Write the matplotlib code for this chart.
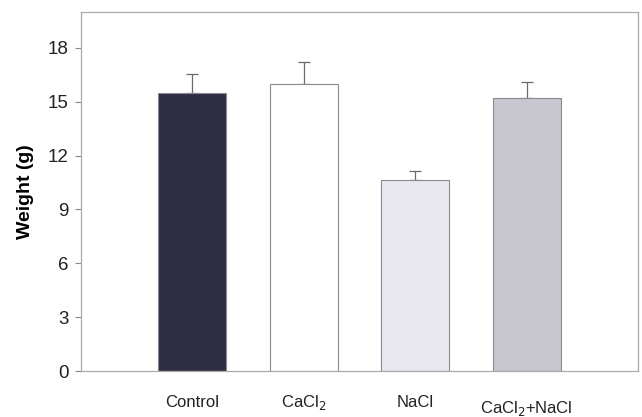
import matplotlib.pyplot as plt
import numpy as np

plt.rcParams["font.family"] = ["Liberation Sans", "DejaVu Sans"]

groups = ["Control", "CaCl$_2$", "NaCl", "CaCl$_2$+NaCl"]
weight = [15.5, 16.0, 10.65, 15.2]
err = [1.05, 1.2, 0.5, 0.9]
colors = ["#2d2d44", "#ffffff", "#e9e7f0", "#c8c7d0"]

fig = plt.figure(figsize=(6.42, 4.17), dpi=100)
ax = fig.add_axes([81/642, 1 - 371/417, (638-81)/642, (371-12)/417])

x = np.arange(1, len(groups) + 1)
ax.bar(x, weight, width=0.61, color=colors, edgecolor="#8a8a92", linewidth=0.8, zorder=2)
ax.errorbar(x, weight, yerr=[np.zeros(len(err)), err], fmt="none",
            ecolor="#6a6a72", elinewidth=0.9, capsize=4, capthick=0.9, zorder=1)

ax.set_xlim(0, 5)
ax.set_ylim(0, 20)
ax.set_yticks([0, 3, 6, 9, 12, 15, 18])
ax.tick_params(axis="y", labelsize=13.5, length=4, pad=5, color="#888888", labelcolor="#222222")
ax.set_xticks([])
for s in ax.spines.values():
    s.set_color("#aaaaaa")
    s.set_linewidth(0.9)

# category labels under the bars, the last one sits a bit lower
offs = [0, 0, 0, -4]
for xi, g, o in zip(x, groups, offs):
    ax.annotate(g, (xi, 0), xytext=(0, -23 + o), textcoords="offset points",
                ha="center", va="center", fontsize=12, color="#222222",
                math_fontfamily="dejavusans")

ax.set_ylabel("Weight (g)", fontsize=14, fontweight="bold", labelpad=10)

fig.savefig("out.png", dpi=100)
